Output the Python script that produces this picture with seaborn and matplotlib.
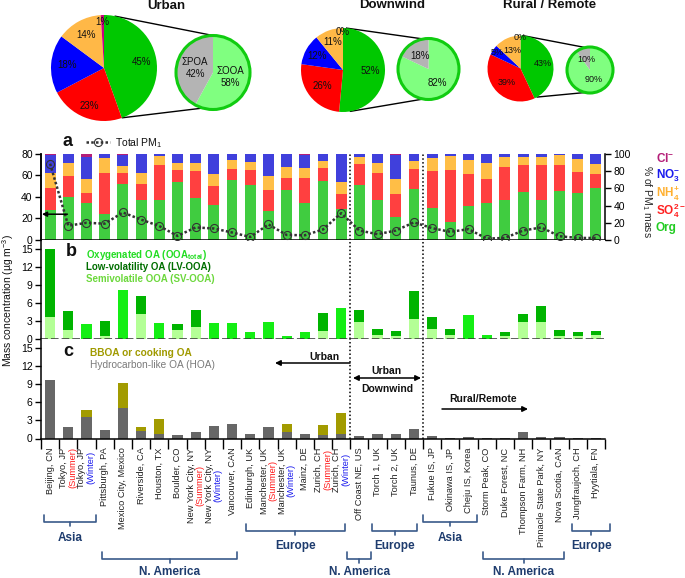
import numpy as np
import pandas as pd
import matplotlib
matplotlib.use("Agg")
import matplotlib.pyplot as plt
from matplotlib.patches import Circle
from matplotlib.transforms import blended_transform_factory
import seaborn as sns

# ---------------- data ----------------
sites = ["Beijing, CN", "Tokyo, JP", "Tokyo, JP", "Pittsburgh, PA", "Mexico City, Mexico",
         "Riverside, CA", "Houston, TX", "Boulder, CO", "New York City, NY", "New York City, NY",
         "Vancouver, CAN", "Edinburgh, UK", "Manchester, UK", "Manchester, UK", "Mainz, DE",
         "Zurich, CH", "Zurich, CH", "Off Coast NE, US", "Torch 1, UK", "Torch 2, UK",
         "Taunus, DE", "Fukue IS, JP", "Okinawa IS, JP", "Cheju IS, Korea", "Storm Peak, CO",
         "Duke Forest, NC", "Thompson Farm, NH", "Pinnacle State Park, NY", "Nova Scotia, CAN",
         "Jungfraujoch, CH", "Hyytiala, FN"]
seasons = ["", "(Summer)", "(Winter)", "", "", "", "", "", "(Summer)", "(Winter)",
           "", "", "(Summer)", "(Winter)", "", "(Summer)", "(Winter)", "", "", "",
           "", "", "", "", "", "", "", "", "", "", ""]

# panel a: % of PM1 mass
org_pct = [35, 50, 43, 30, 65, 47, 47, 68, 49, 41, 70, 64, 34, 58, 43.5, 69, 36,
           64, 47, 27, 59, 37, 21, 40, 43, 46, 56, 47, 56.5, 55, 61]
so4_pct = [26, 24, 12, 48, 13, 18, 40, 13, 31, 22, 13, 17, 24.5, 14.5, 28.5, 15, 17,
           24.5, 31, 27, 24, 43, 60, 37, 27.5, 39, 31.5, 40.5, 31, 24, 16]
nh4_pct = [17, 15, 16, 17, 7.5, 13, 10.5, 8, 9, 14, 10, 10, 16, 12, 12, 8, 14.5,
           7.5, 12, 17, 8.5, 15.5, 17, 16, 19.5, 11, 9.5, 9.5, 11, 15, 11]
no3_pct = [21, 10.5, 26, 4.7, 13.5, 21.7, 2.5, 10.7, 10.7, 22.7, 6.7, 8.7, 25, 15, 14.8, 7.7, 32,
           3.7, 9.7, 28, 8.2, 4, 1.7, 6.7, 9.7, 3.7, 2.7, 2.7, 1.2, 5.7, 11.7]
cl_pct = [1, 0.5, 3, 0.3, 1, 0.3, 0, 0.3, 0.3, 0.3, 0.3, 0.3, 0.5, 0.5, 1.2, 0.3, 0.5,
          0.3, 0.3, 1, 0.3, 0.5, 0.3, 0.3, 0.3, 0.3, 0.3, 0.3, 0.3, 0.3, 0.3]
total_pm1 = [71, 13.3, 16, 15.2, 25.6, 19, 13, 3.8, 11.7, 10.7, 7, 2.8, 14.5, 4.7, 4.4, 9.8, 25,
             8.8, 5.4, 8.8, 16.4, 11, 7.6, 10.1, 1.3, 1.9, 8.8, 11.7, 3.5, 1.9, 1.9]

# panel b: OOA (ug m-3)
lv_ooa = [11.4, 3.1, 0, 2.45, 0, 3.0, 0, 1.0, 2.9, 0, 0, 0, 0, 0, 0, 2.9, 0,
          2.0, 1.0, 0.9, 4.7, 2.0, 1.0, 0, 0, 0.7, 1.3, 2.7, 0.95, 0.7, 0.6]
sv_ooa = [3.6, 1.5, 0, 0.55, 0, 4.2, 0, 1.5, 1.95, 0, 0, 0, 0, 0, 0, 1.4, 0,
          2.8, 0.7, 0.5, 3.3, 1.6, 0.7, 0, 0, 0.5, 2.9, 2.8, 0.55, 0.5, 0.7]
ooa_total_only = [0, 0, 2.5, 0, 8.2, 0, 2.6, 0, 0, 2.6, 2.6, 1.2, 2.9, 0.55, 1.1, 0, 5.1,
                  0, 0, 0, 0, 0, 0, 4.0, 0.67, 0, 0, 0, 0, 0, 0]

# panel c: POA components (ug m-3)
hoa = [9.75, 1.9, 3.6, 1.4, 5.0, 1.25, 0.7, 0.58, 1.03, 2.13, 2.37, 0.67, 1.92, 1.0, 0.8, 0.55, 0.67,
       0.47, 0.75, 0.67, 1.64, 0.47, 0.1, 0.3, 0.15, 0.05, 1.14, 0.25, 0.2, 0.05, 0.05]
bboa = [0, 0, 1.1, 0, 4.2, 0.65, 2.55, 0, 0, 0, 0, 0, 0, 1.45, 0, 1.7, 3.5,
        0, 0, 0, 0, 0, 0, 0, 0, 0, 0, 0, 0, 0, 0]

# pies (%)
pie_titles = ["Urban", "Downwind", "Rural / Remote"]
pie_org = [45, 52, 43]
pie_so4 = [23, 26, 39]
pie_no3 = [18, 12, 5]
pie_nh4 = [14, 11, 13]
pie_cl = [1, 0, 0]
pie_ooa = [58, 82, 90]
pie_poa = [42, 18, 10]

region_labels = ["Asia", "N. America", "Europe", "N. America", "Europe", "Asia", "N. America", "Europe"]

# ---------------- style ----------------
sns.set_theme(style="ticks")
plt.rcParams['font.family'] = ['Liberation Sans', 'DejaVu Sans']
plt.rcParams['mathtext.fontset'] = 'custom'
plt.rcParams['mathtext.rm'] = 'Liberation Sans'
plt.rcParams['mathtext.it'] = 'Liberation Sans:italic'
plt.rcParams['mathtext.bf'] = 'Liberation Sans:bold'
plt.rcParams['axes.edgecolor'] = 'black'
plt.rcParams['text.color'] = '#111111'
plt.rcParams['xtick.color'] = 'black'
plt.rcParams['ytick.color'] = 'black'

W, H = 685, 578
fig = plt.figure(figsize=(W / 100, H / 100), dpi=100)
LPX, RPX = 41, 605
ax_a = fig.add_axes([LPX / W, 1 - 240 / H, (RPX - LPX) / W, 86 / H])
ax_b = fig.add_axes([LPX / W, 1 - 339 / H, (RPX - LPX) / W, 99 / H])
ax_c = fig.add_axes([LPX / W, 1 - 438.5 / H, (RPX - LPX) / W, 99.5 / H])

n = len(sites)
keys = [f"{s} {z}".strip() for s, z in zip(sites, seasons)]
df = pd.DataFrame({"site": keys, "org": org_pct, "so4": so4_pct, "nh4": nh4_pct,
                   "no3": no3_pct, "cl": cl_pct})

# ---- panel a: stacked composition ----
comp_cols = ["org", "so4", "nh4", "no3", "cl"]
comp_colors = ["#40cc40", "#ff4040", "#ffbe46", "#4040dc", "#b41e78"]
cum = np.zeros(n)
layers = []
for c, col in zip(comp_cols, comp_colors):
    cum = cum + df[c].to_numpy()
    layers.append((cum.copy(), col))
for top, col in reversed(layers):
    sns.barplot(x=keys, y=top, order=keys, color=col, width=0.6, saturation=1,
                errorbar=None, ax=ax_a, edgecolor='none', linewidth=0)
ax_a.set_xlim(-0.5, n - 0.5)
ax_a.set_ylim(0, 100)
ax_a.set_xlabel("")
ax_a.spines['top'].set_visible(False)

ax_pm = ax_a.twinx()
# twinx moves the host's ticks to the left: put the % axis back on the right
ax_a.yaxis.tick_right()
ax_a.yaxis.set_label_position('right')
ax_a.set_yticks([0, 20, 40, 60, 80, 100])
ax_a.set_ylabel("% of PM$_1$ mass", fontsize=7.5, rotation=270)
ax_a.yaxis.label.set(ha='center', va='center')
ax_a.yaxis.set_label_coords((647 - LPX) / (RPX - LPX), 0.45)

sns.lineplot(x=np.arange(n), y=total_pm1, ax=ax_pm, color='#333333', lw=1.8,
             linestyle=(0, (1, 0.9)), marker='o', markersize=5.8, markerfacecolor='none',
             markeredgecolor='#333333', markeredgewidth=0.8, legend=False, sort=False)
ax_pm.set_ylim(0, 80)
ax_pm.yaxis.tick_left()
ax_pm.yaxis.set_label_position('left')
ax_pm.set_ylabel("")
ax_pm.set_yticks([0, 20, 40, 60, 80])
for s in ['top', 'right', 'bottom']:
    ax_pm.spines[s].set_visible(False)
ax_pm.annotate("", xy=(-0.45, 24), xytext=(0.95, 24),
               arrowprops=dict(arrowstyle='-|>', color='black', lw=1.1, mutation_scale=7,
                               shrinkA=0, shrinkB=0))
ax_pm.legend(handles=[ax_pm.lines[0]], labels=["Total PM$_1$"], loc='center left',
             bbox_to_anchor=(86 / W, 1 - 143 / H), bbox_transform=fig.transFigure,
             frameon=False, fontsize=7.5, handlelength=2.3, handletextpad=0.5,
             borderaxespad=0, borderpad=0)

# ---- panel b: OOA ----
lv_arr = np.array(lv_ooa)
sv_arr = np.array(sv_ooa)
sns.barplot(x=keys, y=lv_arr + sv_arr, order=keys, color="#00b400", width=0.56, saturation=1,
            errorbar=None, ax=ax_b, edgecolor='none', linewidth=0)
sns.barplot(x=keys, y=sv_arr, order=keys, color="#b4ff96", width=0.56, saturation=1,
            errorbar=None, ax=ax_b, edgecolor='none', linewidth=0)
sns.barplot(x=keys, y=ooa_total_only, order=keys, color="#14ee14", width=0.56, saturation=1,
            errorbar=None, ax=ax_b, edgecolor='none', linewidth=0)
ax_b.set_ylim(0, 16.5)
ax_b.set_xlim(-0.5, n - 0.5)
ax_b.set_yticks([0, 3, 6, 9, 12, 15])
ax_b.spines['bottom'].set_linestyle((0, (4, 3)))
ax_b.spines['bottom'].set_color('#333333')

# ---- panel c: POA ----
sns.barplot(x=keys, y=np.array(hoa) + np.array(bboa), order=keys, color="#a29b00", width=0.56,
            saturation=1, errorbar=None, ax=ax_c, edgecolor='none', linewidth=0)
sns.barplot(x=keys, y=hoa, order=keys, color="#676767", width=0.56, saturation=1,
            errorbar=None, ax=ax_c, edgecolor='none', linewidth=0)
ax_c.set_ylim(0, 16.58)
ax_c.set_xlim(-0.5, n - 0.5)
ax_c.set_yticks([0, 3, 6, 9, 12, 15])
ax_c.set_xticks(np.arange(-0.5, n, 1.0))
ax_c.set_xticklabels([])

for ax in (ax_a, ax_b, ax_c):
    ax.set_xlabel("")
    if ax is not ax_a:
        ax.set_ylabel("")
        ax.spines['right'].set_visible(False)
    ax.spines['top'].set_visible(False)
    for s in ax.spines.values():
        s.set_linewidth(1.1)
    ax.tick_params(axis='y', direction='out', length=4, width=1, labelsize=7.5, pad=2)
    ax.axvline(16.5, color='black', ls=(0, (1, 1.5)), lw=1.1, zorder=6)
    ax.axvline(20.5, color='black', ls=(0, (1, 1.5)), lw=1.1, zorder=6)
ax_pm.spines['left'].set_linewidth(1.1)
ax_pm.tick_params(axis='y', direction='out', length=4, width=1, labelsize=7.5, pad=2)
ax_a.tick_params(axis='x', bottom=False, labelbottom=False)
ax_b.tick_params(axis='x', bottom=False, labelbottom=False)
ax_c.tick_params(axis='x', direction='out', length=7, width=1, bottom=True)

# ---- x labels (rotated, two-line with coloured season) ----
pairs = []
for i, (s, z) in enumerate(zip(sites, seasons)):
    common = dict(xy=(i, 0), xycoords=('data', 'axes fraction'), textcoords='offset pixels',
                  rotation=90, ha='center', va='top', fontsize=6.7)
    if z:
        t1 = ax_c.annotate(s, xytext=(-4.5, -9), color='#222222', **common)
        t2 = ax_c.annotate(z, xytext=(4.5, -9),
                           color='#ff1a1a' if 'Summer' in z else '#1a1aee', **common)
        pairs.append((t1, t2))
    else:
        ax_c.annotate(s, xytext=(0, -9), color='#222222', **common)

# ---------------- overlay (pixel coords) ----------------
ov = fig.add_axes([0, 0, 1, 1], zorder=10)
ov.patch.set_alpha(0)

pie_colors = ["#00c800", "#ff0000", "#0000ff", "#ffb847", "#cc0080"]
zoom_colors = ["#80ff80", "#b4b4b4"]
pie_geom = [((104, 68), 53, (213, 72.5), 37),
            ((343, 70), 42, (428.5, 69), 30.5),
            ((520.5, 68.5), 33, (590, 70), 23)]
main_dists = [[0.72, 0.76, 0.7, 0.7, 0.86],
              [0.65, 0.62, 0.7, 0.7, 0.9],
              [0.7, 0.6, 0.84, 0.6, 0.93]]
pie_fs = [7, 7, 6.5]
zoom_dists = [[0.48, 0.5], [0.55, 0.5], [0.45, 0.5]]
conn_angles = [((78, 90), (-70, -106)), ((84, 100), (-80, -100)), ((86, 102), (-60, -102))]
title_pos = [(166, 6), (392, 5), (550, 5)]


def pt(c, r, ang):
    a = np.deg2rad(ang)
    return c[0] + r * np.cos(a), c[1] - r * np.sin(a)


def draw_pie(values, colors, c, r, labels, dists, fs=7):
    wedges, _ = ov.pie(values, colors=colors, startangle=-90, counterclock=True,
                       center=c, radius=r, wedgeprops=dict(linewidth=0, edgecolor='none'),
                       normalize=True)
    for w, lab, d in zip(wedges, labels, dists):
        th = np.deg2rad((w.theta1 + w.theta2) / 2)
        ov.text(c[0] + d * r * np.cos(th), c[1] + d * r * np.sin(th), lab,
                ha='center', va='center', fontsize=fs, color='#111111', zorder=5,
                multialignment='center')


for k in range(3):
    pc, pr, zc, zr = pie_geom[k]
    vals = [pie_org[k], pie_so4[k], pie_no3[k], pie_nh4[k], pie_cl[k]]
    labs = [f"{v}%" for v in vals]
    (ta_p, ta_z), (ba_p, ba_z) = conn_angles[k]
    for ap, az in ((ta_p, ta_z), (ba_p, ba_z)):
        p1 = pt(pc, pr, ap)
        p2 = pt(zc, zr, az)
        ov.plot([p1[0], p2[0]], [p1[1], p2[1]], color='black', lw=1.0, zorder=0.5)
    draw_pie(vals, pie_colors, pc, pr, labs, main_dists[k], fs=pie_fs[k])
    zv = [pie_ooa[k], pie_poa[k]]
    if k == 0:
        zl = [f"ΣOOA\n{pie_ooa[k]}%", f"ΣPOA\n{pie_poa[k]}%"]
    else:
        zl = [f"{pie_ooa[k]}%", f"{pie_poa[k]}%"]
    draw_pie(zv, zoom_colors, zc, zr, zl, zoom_dists[k], fs=pie_fs[k])
    ov.add_patch(Circle(zc, zr, fill=False, edgecolor='#10cc10', lw=2.2, zorder=4))
    ov.text(title_pos[k][0], title_pos[k][1], pie_titles[k], ha='center', va='center',
            fontsize=9.5, fontweight='bold', color='#111111')

ov.set_aspect('auto')
ov.set_xlim(0, W)
ov.set_ylim(H, 0)
ov.set_axis_off()

# panel letters and legends
ov.text(68, 141, "a", fontsize=13, fontweight='bold', ha='center', va='center')
ov.text(71, 252, "b", fontsize=13, fontweight='bold', ha='center', va='center')
ov.text(68, 352, "c", fontsize=13, fontweight='bold', ha='center', va='center')
ov.text(86, 254.5, r"Oxygenated OA (OOA$_{\mathbf{total}}$)", color="#22dd22", fontsize=7,
        fontweight='bold', va='center')
ov.text(86, 267, "Low-volatility OA (LV-OOA)", color="#006e00", fontsize=7,
        fontweight='bold', va='center')
ov.text(86, 279, "Semivolatile OOA (SV-OOA)", color="#6cd83c", fontsize=7,
        fontweight='bold', va='center')
ov.text(90, 353, "BBOA or cooking OA", color="#a09a00", fontsize=7.3, fontweight='bold',
        va='center')
ov.text(90, 364.5, "Hydrocarbon-like OA (HOA)", color="#7a7a7a", fontsize=7.3, va='center')

ion_labels = [r"Cl$^{\mathbf{-}}$", r"NO$_{\mathbf{3}}^{\mathbf{-}}$", r"NH$_{\mathbf{4}}^{\mathbf{+}}$",
              r"SO$_{\mathbf{4}}^{\mathbf{2-}}$", "Org"]
ion_colors = ["#b41e78", "#1a1aee", "#ffb030", "#ff2020", "#22cc22"]
for lab, col, y in zip(ion_labels, ion_colors, [159, 176, 193, 211, 228]):
    ov.text(656, y, lab, color=col, fontsize=8.5, fontweight='bold', va='center', ha='left')

ov.text(8, 300, "Mass concentration (µg m$^{-3}$)", rotation=90, ha='center', va='center',
        fontsize=7.5)

arr = dict(arrowstyle='-|>', color='black', lw=1.1, mutation_scale=8, shrinkA=0, shrinkB=0)
ov.annotate("", xy=(275, 363), xytext=(350, 363), arrowprops=arr)
ov.text(324, 357, "Urban", ha='center', va='center', fontsize=7.5, fontweight='bold')
ov.annotate("", xy=(353, 378), xytext=(421, 378),
            arrowprops=dict(arrowstyle='<|-|>', color='black', lw=1.1, mutation_scale=8,
                            shrinkA=0, shrinkB=0))
ov.text(386, 371, "Urban", ha='center', va='center', fontsize=7.5, fontweight='bold')
ov.text(387, 389, "Downwind", ha='center', va='center', fontsize=7.5, fontweight='bold')
ov.text(483, 399, "Rural/Remote", ha='center', va='center', fontsize=7.5, fontweight='bold')
ov.annotate("", xy=(528, 409), xytext=(442, 409), arrowprops=arr)

# region brackets (x in site units, y in pixels)
tr = blended_transform_factory(ax_c.transData, ov.transData)
navy = "#1e3c6e"
bracket_span = [(-0.33, 2.53), (2.86, 10.28), (10.77, 16.2), (16.33, 17.65),
                (17.7, 20.17), (20.5, 23.47), (23.8, 28.25), (28.7, 30.78)]
bracket_y = [522, 559, 531, 559, 531, 522, 559, 531]
label_y = [538, 572, 546, 572, 546, 538, 572, 546]
for lab, (x0, x1), yb, yl in zip(region_labels, bracket_span, bracket_y, label_y):
    xm = (x0 + x1) / 2
    ov.plot([x0, x0, x1, x1], [yb - 7, yb, yb, yb - 7], transform=tr, color="#3a5a8a", lw=1.2)
    ov.plot([xm, xm], [yb, yb + 4], transform=tr, color="#3a5a8a", lw=1.2)
    ov.text(xm, yl, lab, transform=tr, ha='center', va='center', fontsize=8.5,
            fontweight='bold', color=navy)

# centre the two-line labels against each other
fig.canvas.draw()
rend = fig.canvas.get_renderer()
for t1, t2 in pairs:
    Lmax = max(t1.get_window_extent(rend).height, t2.get_window_extent(rend).height)
    for t in (t1, t2):
        t.set_va('center')
        t.xyann = (t.xyann[0], -9 - Lmax / 2)

fig.savefig("out.png", dpi=100)
